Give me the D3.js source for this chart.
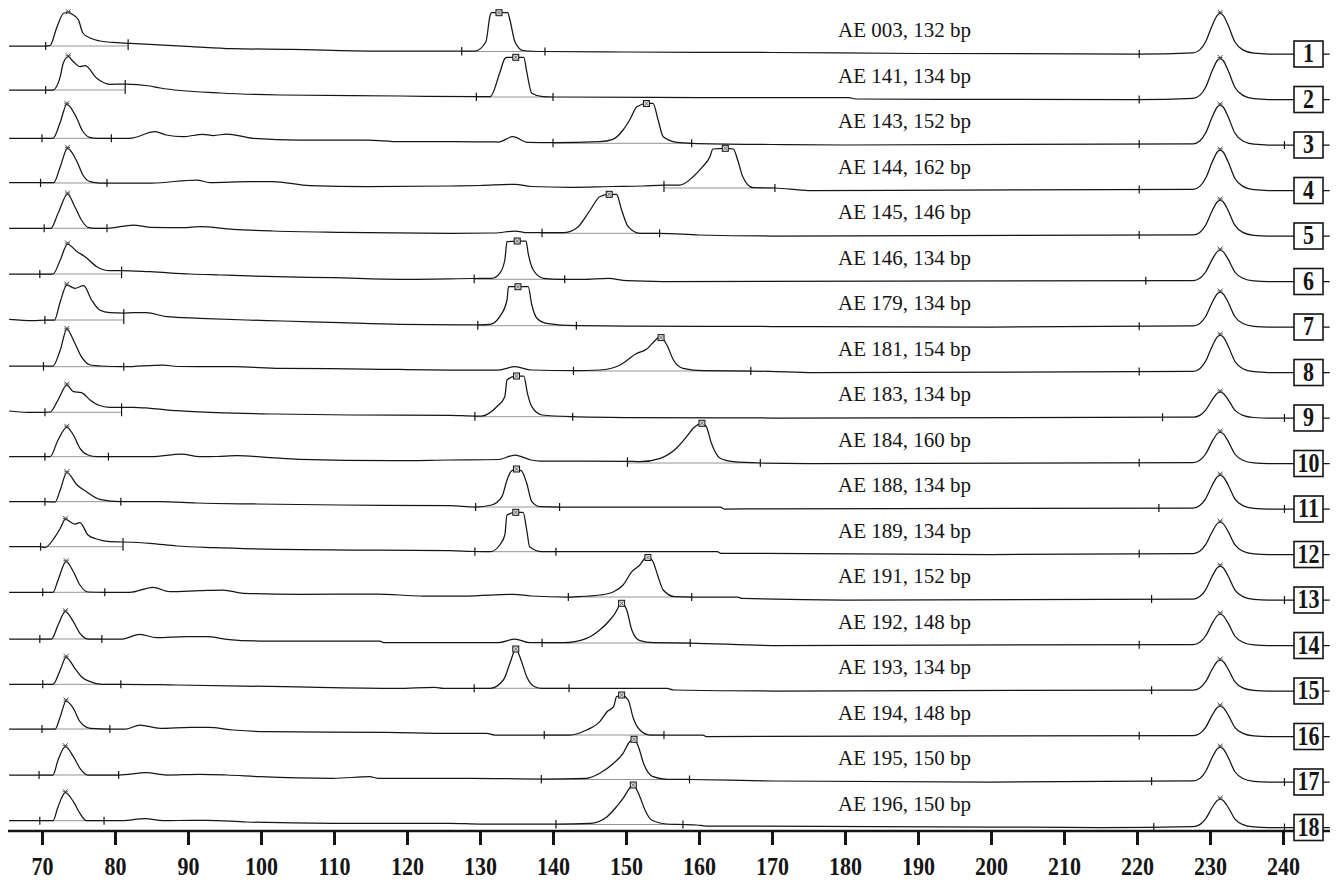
<!DOCTYPE html>
<html><head><meta charset="utf-8">
<script src="https://cdn.jsdelivr.net/npm/d3@7"></script>
<style>body{margin:0;background:#fff}svg{display:block}</style>
</head><body>
<svg id="chart" width="1337" height="884"></svg>
<script>
// ---------- DATA (size in bp, signal in RFU above the trace's right-end baseline) ----------
const sampleLabels = ["AE 003, 132 bp","AE 141, 134 bp","AE 143, 152 bp","AE 144, 162 bp","AE 145, 146 bp","AE 146, 134 bp","AE 179, 134 bp","AE 181, 154 bp","AE 183, 134 bp","AE 184, 160 bp","AE 188, 134 bp","AE 189, 134 bp","AE 191, 152 bp","AE 192, 148 bp","AE 193, 134 bp","AE 194, 148 bp","AE 195, 150 bp","AE 196, 150 bp"];
const laneNumbers = [1,2,3,4,5,6,7,8,9,10,11,12,13,14,15,16,17,18];
const axisTicks = [70,80,90,100,110,120,130,140,150,160,170,180,190,200,210,220,230,240];

const trace01 = [[65.5,80],[70.5,80],[71.1,85],[72.05,270],[73.0,410],[73.6,413],[74.3,390],[75.0,340],[75.6,210],[76.6,160],[78.0,130],[80.3,113],[81.8,107],[90.5,73],[96,53],[104,47],[115.6,30],[126,30],[129.3,30],[130.8,120],[131.4,390],[131.6,413],[133.8,413],[134.1,340],[134.8,120],[135.9,35],[138.9,25],[150,20],[170,15],[190,5],[220,0],[227.7,12],[228.6,41],[229.4,122],[230.3,285],[231.0,387],[231.4,407],[231.8,387],[232.5,285],[233.4,122],[234.5,41],[236,8],[238,0],[246.4,0]];
const trace02 = [[65.5,95],[70.5,95],[71.5,95],[72.5,228],[72.9,360],[73.6,428],[74.3,378],[75.2,328],[75.9,338],[77.5,212],[79.3,152],[81.4,155],[84.8,135],[86.2,115],[94.4,65],[102.6,45],[119,35],[129.5,28],[131.4,28],[132.7,265],[133.4,410],[133.7,422],[136.0,422],[136.4,278],[137.1,62],[138.6,28],[140,25],[160,20],[180.5,20],[181.5,5],[220,0],[227.7,12],[228.6,41],[229.4,123],[230.3,287],[231.0,390],[231.4,410],[231.8,390],[232.5,287],[233.4,123],[234.5,41],[236,8],[238,0],[246.4,0]];
const trace03 = [[65.5,67],[70.0,67],[71.5,67],[72.5,227],[73.4,407],[74.7,277],[75.5,147],[76.5,77],[77.5,67],[79.5,67],[82,67],[85.5,133],[87,100],[89.3,83],[92,107],[93.5,95],[95.3,110],[98.9,67],[105.3,50],[114.5,50],[119,33],[126,33],[132.5,30],[134.5,83],[136.5,27],[140,23],[146.4,33],[148.2,57],[149.6,150],[150.5,250],[151.5,383],[152.9,417],[153.7,417],[154.4,250],[155.1,83],[157,27],[159,17],[170,5],[180,0],[227.7,12],[228.6,40],[229.4,120],[230.3,280],[231.0,380],[231.4,400],[231.8,380],[232.5,280],[233.4,120],[234.5,40],[236,8],[238,0],[246.4,0]];
const trace04 = [[65.5,78],[69.8,78],[71.6,78],[72.5,238],[73.5,422],[74.8,288],[75.6,155],[76.6,88],[77.9,75],[78.9,75],[85,75],[91.2,105],[93,80],[98.5,88],[101.6,88],[106.7,48],[114.5,38],[125.9,45],[130,50],[134.8,62],[137,40],[142.3,32],[148,40],[152.3,45],[155.2,55],[157.4,55],[159.2,138],[160.5,238],[161.5,338],[161.9,415],[163.6,422],[164.7,415],[165.3,305],[166,138],[167.4,28],[170.4,25],[175,0],[227.7,12],[228.6,41],[229.4,122],[230.3,284],[231.0,385],[231.4,405],[231.8,385],[232.5,284],[233.4,122],[234.5,41],[236,8],[238,0],[246.4,0]];
const trace05 = [[65.5,77],[70.3,77],[71.2,77],[72.2,227],[73.5,420],[74.5,293],[75.4,160],[76.3,87],[77.3,77],[78.9,77],[82.5,110],[84.8,87],[89.4,83],[91.6,93],[96.2,67],[101.7,50],[110.8,37],[125.9,27],[132,30],[134.8,50],[136.5,33],[138.5,33],[141.4,33],[143.2,77],[145.1,260],[146.4,393],[147.7,417],[148.7,417],[149.4,260],[150.3,93],[151.9,27],[154.6,27],[160,10],[170,0],[227.7,11],[228.6,36],[229.4,108],[230.3,252],[231.0,342],[231.4,360],[231.8,342],[232.5,252],[233.4,108],[234.5,36],[236,7],[238,0],[246.4,0]];
const trace06 = [[65.5,75],[69.7,75],[71.5,75],[72.5,215],[73.5,375],[74.8,298],[75.9,248],[77.5,148],[79.3,108],[80.9,110],[84.8,98],[90.3,75],[94.4,65],[102.2,48],[109.9,38],[119,22],[129.2,30],[131.6,32],[132.7,82],[133.4,215],[133.7,398],[135.0,405],[136.3,405],[136.6,282],[137.3,115],[138.7,32],[141,22],[144,22],[147.6,32],[150.1,8],[155,0],[227.7,9],[228.6,32],[229.4,95],[230.3,221],[231.0,299],[231.4,315],[231.8,299],[232.5,221],[233.4,95],[234.5,32],[236,6],[238,0],[246.4,0]];
const trace07 = [[65.5,77],[68.8,63],[70.4,70],[71.7,70],[72.5,253],[73.4,420],[74.5,387],[75.7,413],[76.8,270],[77.9,170],[79.3,143],[81.2,140],[82.5,143],[84.3,143],[87.1,103],[91.6,87],[98,70],[103,60],[110.8,43],[119,27],[129.7,22],[131.4,27],[132.7,103],[133.7,270],[133.9,403],[135.2,403],[136.6,403],[137.1,220],[137.8,87],[139.1,37],[143.2,13],[150,10],[170,5],[200,0],[227.7,11],[228.6,35],[229.4,105],[230.3,245],[231.0,333],[231.4,350],[231.8,333],[232.5,245],[233.4,105],[234.5,35],[236,7],[238,0],[246.4,0]];
const trace08 = [[65.5,65],[70.2,65],[71.5,65],[72.5,225],[73.4,432],[74.5,292],[75.4,158],[76.6,75],[78,65],[81.2,58],[86.6,75],[88.5,60],[91.6,58],[96.2,58],[102.6,42],[114.5,35],[125.9,25],[132.5,25],[134.8,58],[137,25],[142.8,18],[146.4,25],[149.2,75],[151.5,192],[152.8,232],[153.7,298],[154.7,358],[155.6,275],[156.5,125],[157.8,42],[160.6,18],[167.1,15],[175,0],[227.7,11],[228.6,38],[229.4,113],[230.3,263],[231.0,356],[231.4,375],[231.8,356],[232.5,263],[233.4,113],[234.5,38],[236,8],[238,0],[246.4,0]];
const trace09 = [[65.5,70],[68,57],[70.4,57],[71.1,60],[72.2,180],[73.4,330],[74.3,263],[75.4,253],[76.6,180],[77.7,130],[79.3,107],[80.9,107],[82.5,107],[84.8,97],[88.5,73],[93.9,53],[102.1,40],[112.2,30],[125.9,27],[129.3,20],[130.2,20],[132.3,113],[133.4,213],[133.7,380],[134.9,420],[136.0,420],[136.5,247],[137.1,113],[138.5,30],[142.7,13],[150,5],[170,0],[227.7,8],[228.6,26],[229.4,78],[230.3,182],[231.0,247],[231.4,260],[231.8,247],[232.5,182],[233.4,78],[234.5,26],[236,5],[238,0],[246.4,0]];
const trace10 = [[65.5,68],[70.4,68],[71.1,68],[72.2,235],[73.4,362],[74.3,285],[75.2,152],[76.3,85],[77.5,68],[79.1,68],[85,68],[89.1,95],[91.6,68],[94,70],[96.7,78],[100.8,62],[105.3,42],[118.1,28],[125.9,35],[132.5,40],[134.8,85],[137,35],[138.2,25],[150.2,22],[151.9,18],[154.7,52],[156.9,152],[158.3,268],[159.2,352],[160.4,402],[161,368],[161.7,202],[162.9,52],[164.7,18],[168.4,5],[175,0],[227.7,9],[228.6,32],[229.4,95],[230.3,221],[231.0,299],[231.4,315],[231.8,299],[232.5,221],[233.4,95],[234.5,32],[236,6],[238,0],[246.4,0]];
const trace11 = [[65.5,73],[70.4,73],[71.8,70],[72.5,190],[73.4,363],[74.8,240],[76.1,173],[77.9,97],[80.8,73],[86.2,73],[91.2,60],[99.4,50],[110.8,40],[125.9,33],[129.4,20],[131.6,40],[133,123],[133.7,290],[134.3,380],[135.0,400],[135.7,380],[136.4,257],[137.1,73],[138.2,23],[140.9,20],[162.9,20],[163.5,0],[227.7,10],[228.6,34],[229.4,102],[230.3,238],[231.0,323],[231.4,340],[231.8,323],[232.5,238],[233.4,102],[234.5,34],[236,7],[238,0],[246.4,0]];
const trace12 = [[65.5,78],[69.8,78],[70.4,70],[71.8,178],[72.5,262],[73.2,352],[74.5,305],[75.2,318],[76.3,195],[77.5,155],[79.3,128],[81.1,125],[84.8,112],[88.5,85],[93.5,68],[102.1,52],[112.6,45],[125.9,38],[129.3,30],[131.4,28],[132.7,95],[133.4,195],[133.7,395],[134.9,422],[135.9,422],[136.4,245],[136.8,78],[138.5,28],[140.4,28],[162.5,28],[163,12],[200,0],[227.7,10],[228.6,33],[229.4,98],[230.3,228],[231.0,309],[231.4,325],[231.8,309],[232.5,228],[233.4,98],[234.5,33],[236,7],[238,0],[246.4,0]];
const trace13 = [[65.5,77],[70.1,77],[71.5,77],[72.2,200],[73.3,383],[74.3,283],[75.2,150],[76.3,80],[78.6,77],[82,77],[85.2,127],[87.5,83],[91.6,93],[94.8,100],[97.6,67],[105.3,57],[115.8,60],[122.2,40],[128,40],[134.6,57],[137,40],[142.1,30],[143.2,33],[146.4,50],[148.3,83],[149.6,150],[150.8,283],[151.9,350],[152.6,417],[153.1,427],[153.7,383],[154.4,233],[155.1,100],[156.7,33],[159,30],[165.3,30],[165.8,17],[180,0],[227.7,10],[228.6,34],[229.4,102],[230.3,238],[231.0,323],[231.4,340],[231.8,323],[232.5,238],[233.4,102],[234.5,34],[236,7],[238,0],[246.4,0]];
const trace14 = [[65.5,65],[69.7,65],[71.3,65],[72.2,205],[73.2,338],[74.3,238],[75.2,122],[76.3,65],[78.2,65],[81,65],[83.4,112],[85.7,78],[89.8,88],[92.6,88],[95.3,62],[99.9,45],[116.3,45],[116.8,28],[126,28],[132.5,28],[134.8,65],[136.8,28],[138.5,28],[141.4,28],[144.6,72],[146.4,155],[147.8,255],[148.5,322],[149.4,422],[150.1,355],[150.8,155],[151.9,48],[153.7,28],[158.8,25],[170,0],[227.7,9],[228.6,32],[229.4,95],[230.3,221],[231.0,299],[231.4,315],[231.8,299],[232.5,221],[233.4,95],[234.5,32],[236,6],[238,0],[246.4,0]];
const trace15 = [[65.5,67],[70.1,67],[71.5,67],[72.5,210],[73.3,337],[74.5,227],[75.4,143],[76.6,93],[78.2,67],[80.8,67],[88.5,60],[103.1,43],[118.6,27],[123.8,37],[125,27],[129.2,27],[131.4,27],[133.2,110],[134.1,277],[134.9,420],[135.7,293],[136.4,143],[137.5,43],[138.5,27],[142.2,27],[155.6,27],[156.5,10],[170,0],[227.7,9],[228.6,31],[229.4,93],[230.3,217],[231.0,295],[231.4,310],[231.8,295],[232.5,217],[233.4,93],[234.5,31],[236,6],[238,0],[246.4,0]];
const trace16 = [[65.5,75],[70,75],[71.8,75],[72.5,198],[73.3,355],[74.3,282],[75.2,148],[76.6,82],[79.3,75],[81.5,75],[83.4,115],[86.2,82],[90.3,92],[92.8,92],[96.2,65],[100.8,48],[117.2,42],[125.9,32],[129.5,32],[130.9,32],[132,15],[138.8,15],[142.3,15],[144.6,65],[146.4,148],[147.4,248],[148.3,298],[148.7,398],[149.4,415],[150.3,365],[151,182],[151.9,65],[153.3,15],[155.2,15],[160.5,15],[161,0],[227.7,9],[228.6,31],[229.4,92],[230.3,214],[231.0,290],[231.4,305],[231.8,290],[232.5,214],[233.4,92],[234.5,31],[236,6],[238,0],[246.4,0]];
const trace17 = [[65.5,70],[69.6,70],[71.5,70],[72.2,220],[73.2,353],[74.3,253],[75.2,137],[76.3,70],[80.5,70],[84.3,93],[87.1,70],[91.6,77],[95.3,70],[99.9,53],[109.9,37],[114.9,53],[116,37],[125.9,37],[128.6,37],[138.4,30],[144.6,37],[146.4,87],[148.3,187],[149.6,287],[150.5,403],[151.1,427],[151.7,353],[152.4,187],[153.7,53],[155.6,27],[158.7,25],[170,10],[200,0],[227.7,11],[228.6,35],[229.4,105],[230.3,245],[231.0,333],[231.4,350],[231.8,333],[232.5,245],[233.4,105],[234.5,35],[236,7],[238,0],[246.4,0]];
const trace18 = [[65.5,68],[69.7,68],[71.5,68],[72.2,208],[73.2,348],[74.3,258],[75.2,142],[76.1,68],[78.5,68],[81,68],[84.1,88],[86.6,68],[90.7,72],[92.6,72],[98,55],[109.9,42],[125.9,42],[130,35],[140.4,35],[145.1,42],[147.4,108],[148.7,208],[149.6,292],[151,425],[151.9,308],[152.6,175],[153.5,75],[155.6,35],[157.8,30],[159.7,25],[161,15],[200,5],[215,0],[227.7,9],[228.6,29],[229.4,86],[230.3,200],[231.0,271],[231.4,285],[231.8,271],[232.5,200],[233.4,86],[234.5,29],[236,6],[238,0],[246.4,0]];
const traces = [trace01,trace02,trace03,trace04,trace05,trace06,trace07,trace08,trace09,trace10,trace11,trace12,trace13,trace14,trace15,trace16,trace17,trace18];

// peak-calling windows (bp) : [start, end]
const ladderWindows = [[70.5,81.8],[70.5,81.4],[70.0,79.5],[69.8,78.9],[70.3,78.9],[69.7,80.9],[70.4,81.2],[70.2,81.2],[70.4,80.9],[70.4,79.1],[70.4,80.8],[69.8,81.1],[70.1,78.6],[69.7,78.2],[70.1,80.8],[70.0,79.3],[69.6,80.5],[69.7,78.5]];
const targetWindows = [[127.5,138.9],[129.5,140.0],[140.0,159.0],[155.2,170.4],[138.5,154.6],[129.2,141.6],[129.7,143.2],[142.8,167.1],[129.3,142.7],[150.2,168.4],[129.4,140.9],[129.3,140.4],[142.1,159.0],[138.5,158.8],[129.2,142.2],[138.8,155.2],[138.4,158.7],[140.4,157.8]];
const sizerWindows = [[220.3,null],[220.3,null],[220.3,240.2],[220.3,null],[220.3,null],[221.2,null],[220.3,null],[220.3,null],[223.5,240.2],[220.3,null],[223.0,240.2],[220.3,null],[222.0,240.2],[220.3,null],[222.0,null],[220.3,null],[222.0,240.2],[222.3,240.2]];
// called peak apexes (bp)
const ladderApex = [73.6,73.6,73.4,73.5,73.5,73.5,73.4,73.4,73.4,73.4,73.4,73.2,73.3,73.2,73.3,73.3,73.2,73.2];
const targetApex = [132.6,134.9,152.8,163.6,147.7,135.1,135.2,154.8,135.0,160.4,135.0,134.9,153.0,149.4,134.9,149.4,151.1,151.0];
const sizerApex = [231.4,231.4,231.4,231.4,231.4,231.4,231.4,231.4,231.4,231.4,231.4,231.4,231.4,231.4,231.4,231.4,231.4,231.4];

// ---------- DRAWING ----------
const svg = d3.select('#chart');
const ink = '#151515';
const serif = '"Liberation Serif", "Times New Roman", serif';
const x = d3.scaleLinear().domain([70,240]).range([42,1283]);
const row = d3.scaleLinear().domain([0,17]).range([54,827.5]);
const amp = d3.scaleLinear().domain([0,400]).range([0,40]);
const yOf = (i,v) => row(i) - amp(v);
const bis = d3.bisector(d => d[0]).left;
function valAt(tr, bp){
  const k = bis(tr, bp);
  if (k <= 0) return tr[0][1];
  if (k >= tr.length) return tr[tr.length-1][1];
  const a = tr[k-1], b = tr[k];
  return a[1] + (b[1]-a[1]) * (bp-a[0]) / (b[0]-a[0]);
}

// axis
const axis = d3.axisBottom(x).tickValues(axisTicks).tickSize(14).tickFormat(d3.format('d'));
const ax = svg.append('g').attr('transform','translate(0,831)').call(axis);
ax.select('.domain').remove();
ax.selectAll('.tick line').attr('stroke',ink).attr('stroke-width',3);
ax.selectAll('.tick text').attr('y',0).attr('dy',0).attr('transform','translate(0,44) scale(1,1.15)').attr('fill',ink)
  .style('font-family',serif).style('font-weight','bold').style('font-size','22px');
svg.append('line').attr('x1',8).attr('x2',1330).attr('y1',831).attr('y2',831).attr('stroke',ink).attr('stroke-width',2.6);

const gTr = svg.append('g');
traces.forEach((tr, i) => {
  const g = gTr.append('g');
  const wins = [ladderWindows[i], targetWindows[i]];
  wins.forEach(w => {
    const v0 = valAt(tr, w[0]), v1 = valAt(tr, w[1]);
    const vb = Math.min(v0, v1);
    g.append('line').attr('x1',x(w[0])).attr('x2',x(w[1])).attr('y1',yOf(i,vb)).attr('y2',yOf(i,vb))
      .attr('stroke','#888').attr('stroke-width',0.9);
    w.forEach(b => {
      const vt = valAt(tr, b);
      g.append('line').attr('x1',x(b)).attr('x2',x(b))
        .attr('y1',yOf(i,vt)-4).attr('y2',yOf(i,vb)+4).attr('stroke',ink).attr('stroke-width',1.2);
    });
  });
  sizerWindows[i].forEach(b => {
    if (b == null) return;
    const vt = valAt(tr, b);
    g.append('line').attr('x1',x(b)).attr('x2',x(b)).attr('y1',yOf(i,vt)-4).attr('y2',yOf(i,vt)+4)
      .attr('stroke',ink).attr('stroke-width',1.2);
  });
  g.append('path').datum(tr)
    .attr('d', d3.line().x(d => x(d[0])).y(d => yOf(i,d[1])).curve(d3.curveMonotoneX))
    .attr('fill','none').attr('stroke',ink).attr('stroke-width',1.25).attr('stroke-linejoin','round');
  [ladderApex[i], sizerApex[i]].forEach(b => {
    const cx = x(b), cy = yOf(i, valAt(tr,b)) - 1;
    g.append('path').attr('d',`M${cx-2.5},${cy-2.5}L${cx+2.5},${cy+2.5}M${cx+2.5},${cy-2.5}L${cx-2.5},${cy+2.5}M${cx-2.5},${cy}L${cx+2.5},${cy}`)
      .attr('stroke','#555').attr('stroke-width',1);
  });
  const tx = x(targetApex[i]), ty = yOf(i, valAt(tr,targetApex[i]));
  g.append('rect').attr('x',tx-3).attr('y',ty-3).attr('width',6).attr('height',6)
    .attr('fill','#ddd').attr('stroke',ink).attr('stroke-width',1);
  g.append('path').attr('d',`M${tx-2},${ty-2}L${tx+2},${ty+2}M${tx+2},${ty-2}L${tx-2},${ty+2}`)
    .attr('stroke','#555').attr('stroke-width',0.8);
});

// sample labels
svg.append('g').selectAll('text').data(sampleLabels).join('text')
  .attr('x',838).attr('y',(d,i) => row(i) - 17)
  .attr('fill',ink)
  .style('font-family',serif).style('font-size','21px')
  .text(d => d);

// lane number boxes
const gb = svg.append('g');
laneNumbers.forEach((n,i) => {
  const cy = row(i);
  gb.append('rect').attr('x',1294).attr('y',cy-13).attr('width',29).attr('height',26)
    .attr('fill','#fff').attr('stroke',ink).attr('stroke-width',1.6);
  gb.append('text').attr('transform',`translate(1308.5,${cy+8}) scale(1,1.2)`).attr('text-anchor','middle').attr('fill',ink)
    .style('font-family',serif).style('font-weight','bold').style('font-size','22px')
    .text(n);
});
</script>
</body></html>
